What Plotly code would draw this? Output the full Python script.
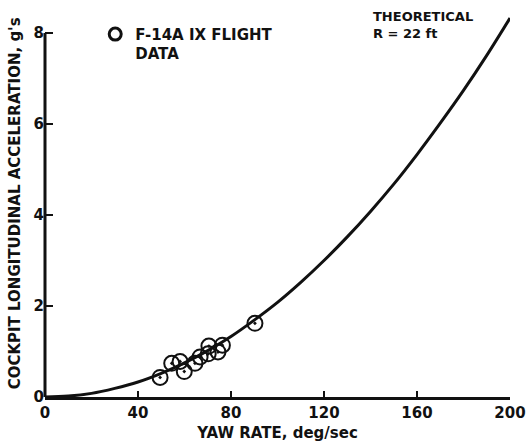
import plotly.graph_objects as go

# Theoretical curve, R = 22 ft
theo_rate = [0, 10, 20, 30, 40, 50, 60, 70, 80, 90, 100, 110, 120, 130, 140, 150, 160, 170, 180, 190, 200]
theo_accel = [0.0, 0.02, 0.08, 0.19, 0.33, 0.52, 0.75, 1.02, 1.33, 1.69, 2.08, 2.52, 3.0, 3.52, 4.08, 4.68, 5.33, 6.02, 6.74, 7.51, 8.33]

# F-14A IX flight data
flight_rate = [49.5, 54.5, 58.1, 59.9, 64.5, 66.7, 70.2, 70.5, 74.4, 76.3, 90.3]
flight_accel = [0.43, 0.74, 0.78, 0.56, 0.74, 0.88, 0.95, 1.12, 0.99, 1.14, 1.62]

x_ticks = [0, 40, 80, 120, 160, 200]
y_ticks = [0, 2, 4, 6, 8]

FONT = "DejaVu Sans"
BLACK = "#111111"

def b(s):
    return "<b>" + s + "</b>"

fig = go.Figure()
fig.add_trace(go.Scatter(
    x=theo_rate, y=theo_accel, mode="lines",
    line=dict(color=BLACK, width=3, shape="spline"),
    showlegend=False, hoverinfo="skip"))
fig.add_trace(go.Scatter(
    x=flight_rate, y=flight_accel, mode="markers",
    marker=dict(symbol="circle-open-dot", size=15, color=BLACK, line=dict(width=2, color=BLACK)),
    showlegend=False))
# legend entry
fig.add_trace(go.Scatter(
    x=[None], y=[None], mode="markers", name=b("F-14A IX FLIGHT") + "<br>" + b("DATA"),
    marker=dict(symbol="circle-open", size=12, color=BLACK, line=dict(width=3, color=BLACK)),
    showlegend=True))

fig.update_layout(
    width=528, height=445,
    margin=dict(l=45, r=18, t=14, b=48, autoexpand=False),
    paper_bgcolor="white", plot_bgcolor="white",
    font=dict(family=FONT, color=BLACK, size=14),
    legend=dict(x=0.108, y=0.99, xanchor="left", yanchor="top",
                bgcolor="rgba(0,0,0,0)", valign="top",
                font=dict(family=FONT, size=15, color=BLACK),
                itemwidth=30, tracegroupgap=0),
    xaxis=dict(range=[0, 200], tickvals=x_ticks, ticktext=[b(str(v)) for v in x_ticks],
               automargin=False,
               showgrid=False, zeroline=False, showline=True, linecolor=BLACK, linewidth=3,
               ticks="inside", ticklen=6, tickwidth=2, tickcolor=BLACK,
               tickfont=dict(family=FONT, size=15, color=BLACK),
               title=dict(text=b("YAW RATE, deg/sec"), standoff=7,
                          font=dict(family=FONT, size=15, color=BLACK))),
    yaxis=dict(range=[0, 8.42], tickvals=y_ticks, ticktext=[b(str(v)) for v in y_ticks],
               automargin=False,
               showgrid=False, zeroline=False, showline=False,
               ticks="inside", ticklen=8, tickwidth=2, tickcolor=BLACK,
               tickfont=dict(family=FONT, size=15, color=BLACK)),
    shapes=[dict(type="line", xref="paper", yref="y", x0=0, x1=0, y0=0, y1=8,
                 line=dict(color=BLACK, width=3))],
    annotations=[
        dict(text=b("COCKPIT LONGITUDINAL ACCELERATION, g's"), textangle=-90,
             xref="paper", yref="paper", x=-0.065, y=0.505, xanchor="center", yanchor="middle",
             showarrow=False, font=dict(family=FONT, size=15, color=BLACK)),
        dict(text=b("THEORETICAL") + "<br>" + b("R = 22 ft"), align="left",
             xref="paper", yref="paper", x=0.7, y=1.018, xanchor="left", yanchor="top",
             showarrow=False, font=dict(family=FONT, size=13, color=BLACK)),
    ],
)

fig.write_html("out.html")
